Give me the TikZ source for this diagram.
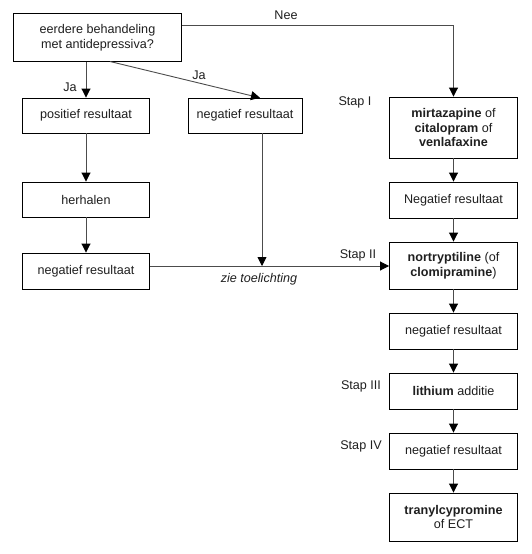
\documentclass[tikz,border=0pt]{standalone}
\usepackage{fontspec}
\setmainfont{Liberation Sans}
\usetikzlibrary{arrows.meta}
\begin{document}
\begin{tikzpicture}[x=1pt,y=-1pt,
  box/.style={draw=black, line width=0.9pt, inner sep=0pt, align=center,
    font=\fontsize{12.6}{14.8}\selectfont, text=black!88},
  lbl/.style={inner sep=0pt, font=\fontsize{12.6}{14.8}\selectfont, text=black!88},
  conn/.style={draw=black!70, line width=0.9pt, -{Triangle[length=9pt,width=9pt,color=black]}},
  plain/.style={draw=black!70, line width=0.9pt}]
\useasboundingbox (0,0) rectangle (531,554);
\fill[white] (0,0) rectangle (531,554);
% boxes
\node[box, minimum width=168pt, minimum height=48pt] (q) at (97.5,37.5) {eerdere behandeling\\met antidepressiva?};
\node[box, minimum width=127pt, minimum height=35pt] (pos) at (86,115.5) {positief resultaat};
\node[box, minimum width=114pt, minimum height=35pt] (neg1) at (245,115.5) {negatief resultaat};
\node[box, minimum width=127pt, minimum height=35pt] (her) at (86,199.5) {herhalen};
\node[box, minimum width=127pt, minimum height=36pt] (neg2) at (86,271) {negatief resultaat};
\node[box, minimum width=128pt, minimum height=61pt] (mirt) at (453.5,127.5) {\textbf{mirtazapine} of\\\textbf{citalopram} of\\\textbf{venlafaxine}};
\node[box, minimum width=128pt, minimum height=36pt] (neg3) at (453.5,200) {Negatief resultaat};
\node[box, minimum width=128pt, minimum height=47pt] (nort) at (453.5,265.5) {\textbf{nortryptiline} (of\\\textbf{clomipramine})};
\node[box, minimum width=128pt, minimum height=36pt] (neg4) at (453.5,331) {negatief resultaat};
\node[box, minimum width=128pt, minimum height=36pt] (lith) at (453.5,391) {\textbf{lithium} additie};
\node[box, minimum width=128pt, minimum height=36pt] (neg5) at (453.5,451) {negatief resultaat};
\node[box, minimum width=128pt, minimum height=48pt] (tran) at (453.5,517) {\textbf{tranylcypromine}\\of ECT};
% labels
\node[lbl] (nee) at (286,15) {Nee};
\node[lbl] (ja1) at (70,87) {Ja};
\node[lbl] (ja2) at (199,75) {Ja};
\node[lbl] (s1) at (355,102) {Stap I};
\node[lbl] (s2) at (358,255) {Stap II};
\node[lbl] (s3) at (361,386) {Stap III};
\node[lbl] (s4) at (361,446) {Stap IV};
\node[lbl, font=\fontsize{12.6}{14.8}\selectfont\itshape] (zie) at (259,279) {zie toelichting};
% connectors
\coordinate (neecorner) at (mirt.north |- 0,25);
\draw[plain] (q.east |- neecorner) -- (neecorner);
\draw[conn] (neecorner) -- (mirt.north);
\draw[conn] (q.south -| pos.north) -- (pos.north);
\coordinate (dstart) at (110,61.5);
\coordinate (dend) at (260,97.8);
\draw[conn] (dstart) -- (dend);
\draw[conn] (pos) -- (her);
\draw[conn] (her) -- (neg2);
\coordinate (mid) at (262,266);
\draw[conn] (neg1.south -| mid) -- (mid);
\draw[conn] (neg2.east |- mid) -- (nort.west |- mid);
\draw[conn] (mirt) -- (neg3);
\draw[conn] (neg3) -- (nort);
\draw[conn] (nort) -- (neg4);
\draw[conn] (neg4) -- (lith);
\draw[conn] (lith) -- (neg5);
\draw[conn] (neg5) -- (tran);
\end{tikzpicture}
\end{document}
